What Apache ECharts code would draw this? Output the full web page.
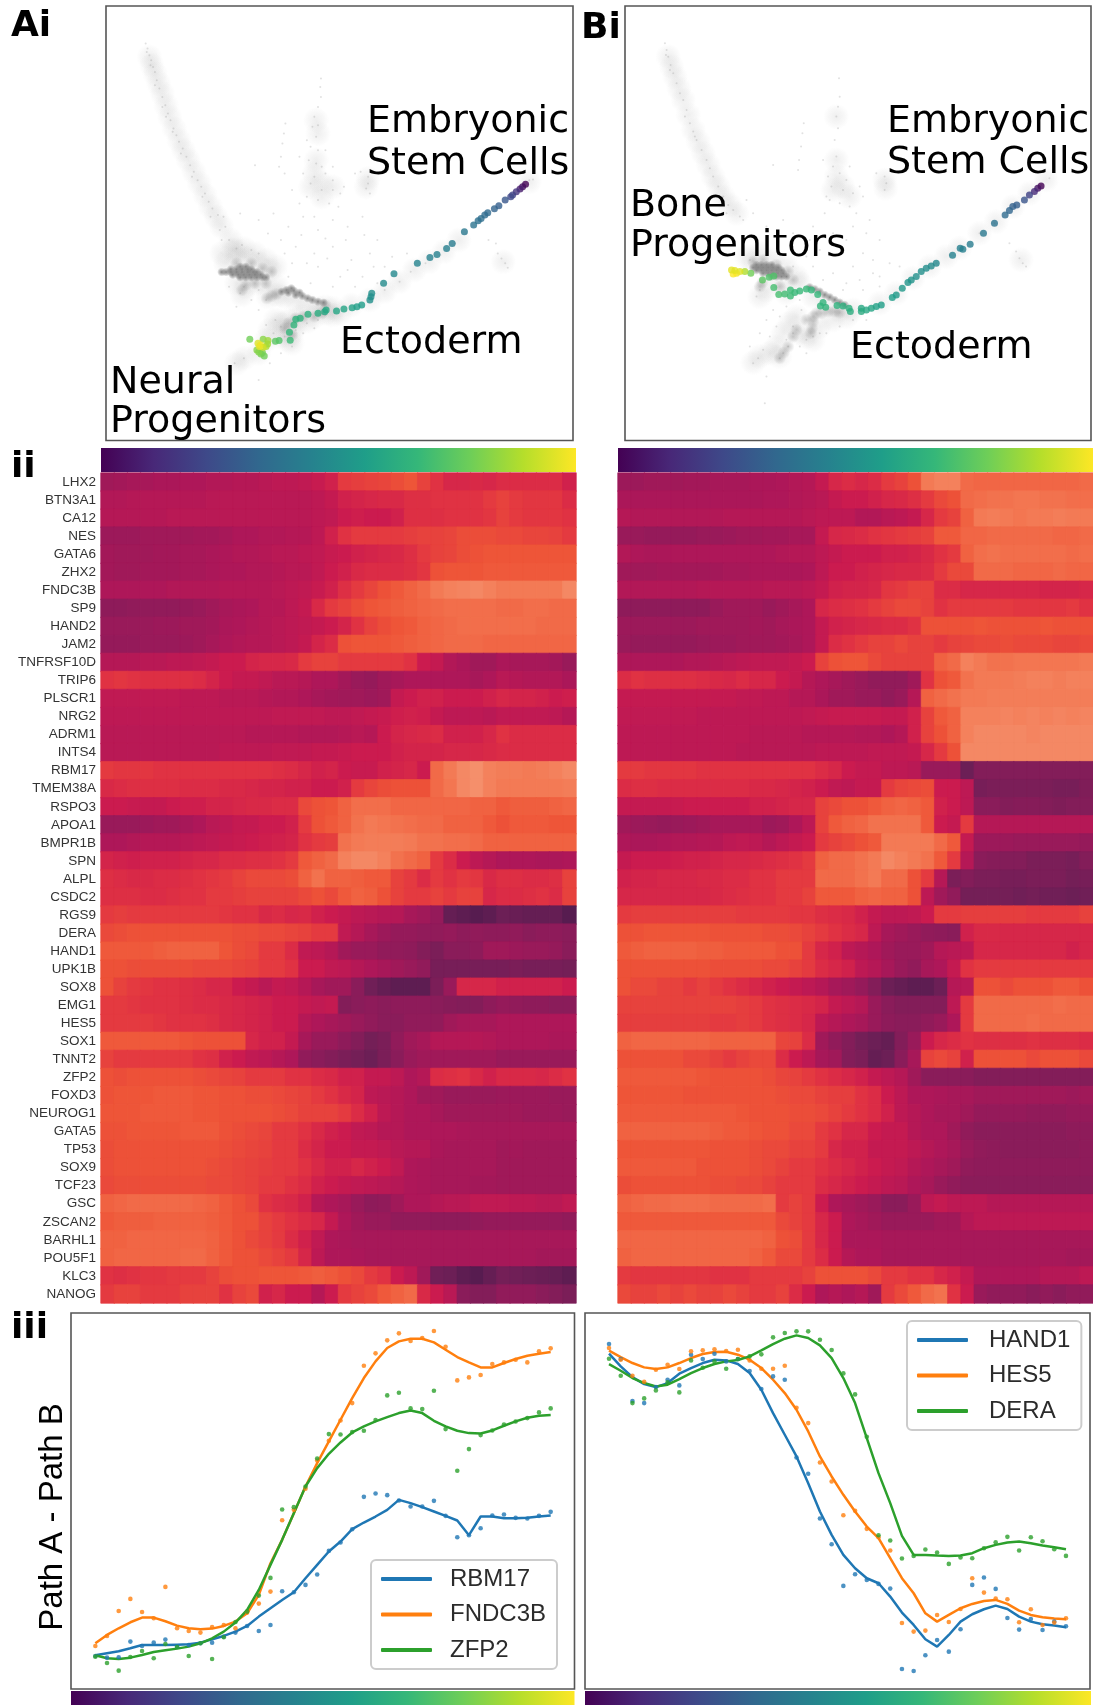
<!DOCTYPE html>
<html><head><meta charset="utf-8">
<style>html,body{margin:0;padding:0;background:#fff}#c{width:1093px;height:1705px}</style>
<script src="https://cdn.jsdelivr.net/npm/echarts@6/dist/echarts.min.js"></script>
</head><body><div id="c"></div>
<script>
const geneNames=["LHX2","BTN3A1","CA12","NES","GATA6","ZHX2","FNDC3B","SP9","HAND2","JAM2","TNFRSF10D","TRIP6","PLSCR1","NRG2","ADRM1","INTS4","RBM17","TMEM38A","RSPO3","APOA1","BMPR1B","SPN","ALPL","CSDC2","RGS9","DERA","HAND1","UPK1B","SOX8","EMG1","HES5","SOX1","TNNT2","ZFP2","FOXD3","NEUROG1","GATA5","TP53","SOX9","TCF23","GSC","ZSCAN2","BARHL1","POU5F1","KLC3","NANOG"];
const heatPathA=[
[38,39,40,40,41,41,42,42,43,43,44,44,45,46,46,47,49,52,60,61,62,63,65,67,62,58,54,54,55,54,56,56,56,56,56,52],
[43,43,44,44,44,44,44,44,45,45,45,45,45,45,45,45,46,48,52,53,54,55,55,57,57,58,58,58,58,60,62,60,59,59,59,56],
[44,44,44,44,44,45,45,45,45,45,45,45,45,45,45,45,46,47,50,51,50,50,52,57,57,57,58,58,58,59,62,60,59,59,59,58],
[37,37,37,38,38,38,38,39,39,40,42,42,43,43,44,44,46,52,58,60,60,60,60,61,62,62,63,65,65,65,64,64,63,63,62,60],
[39,38,38,38,39,39,40,40,41,42,43,43,44,45,45,46,47,49,50,52,53,54,55,57,60,62,63,65,66,67,67,67,67,67,67,67],
[39,38,38,39,39,39,40,40,41,42,42,43,43,44,45,45,47,50,52,55,56,56,56,57,59,66,67,67,67,68,68,68,68,68,68,68],
[42,42,42,42,42,43,43,43,43,44,44,44,44,45,46,47,49,52,57,60,63,66,68,70,72,76,78,79,80,78,76,76,76,76,76,80],
[33,33,34,34,34,34,35,36,38,40,41,42,44,44,46,48,55,60,62,65,67,68,69,70,71,72,73,73,73,73,72,72,73,73,72,72],
[36,36,36,36,37,37,38,38,39,41,42,43,44,45,46,47,48,50,53,58,62,65,67,68,70,71,72,73,73,73,73,73,73,72,72,72],
[35,35,35,36,36,36,37,38,40,42,43,44,44,45,46,48,53,56,66,67,67,67,68,69,70,71,72,72,72,71,71,71,71,71,71,71],
[44,44,44,45,45,46,46,47,48,50,50,53,54,54,55,60,62,62,60,60,60,60,60,58,50,48,43,41,38,38,41,40,40,40,39,36],
[58,59,58,57,57,57,57,56,53,50,48,48,47,45,45,44,42,42,39,36,35,38,40,42,42,42,42,42,40,42,45,44,43,43,43,41],
[47,47,47,47,47,47,46,46,46,45,45,45,44,43,43,42,40,39,38,38,37,38,48,50,52,52,50,50,50,52,54,53,53,52,50,51],
[46,46,46,46,46,46,46,46,46,46,46,46,46,47,47,47,47,46,46,47,48,49,51,52,51,48,46,46,46,45,47,47,47,47,46,44],
[45,45,45,45,45,45,45,45,45,45,45,44,44,44,44,43,43,43,44,45,44,50,53,54,55,56,52,52,52,54,58,56,56,56,56,56],
[45,45,45,45,45,45,45,45,45,46,46,46,46,47,47,47,48,48,49,50,50,50,52,53,53,53,54,54,54,55,56,56,56,56,56,56],
[60,59,59,59,58,58,58,58,58,58,58,58,58,57,56,54,52,53,50,49,49,52,53,54,50,72,76,80,82,78,77,77,76,77,78,80],
[55,56,57,57,57,57,56,56,56,55,55,54,53,53,52,52,50,50,52,60,63,65,66,66,66,72,75,80,82,78,76,76,76,76,76,77],
[50,50,49,48,48,50,51,51,53,53,54,55,55,56,56,64,66,67,70,73,73,73,71,71,71,71,71,71,70,70,68,69,69,69,70,71],
[36,36,36,37,38,38,40,42,45,46,48,48,50,50,52,60,66,68,70,74,76,75,74,73,72,72,70,70,70,68,66,68,68,68,67,67],
[42,42,43,44,44,44,45,46,47,48,49,50,51,52,53,58,60,61,74,76,77,77,77,76,74,74,73,73,72,70,70,70,70,70,70,70],
[53,52,51,52,52,52,53,54,54,56,56,57,57,58,60,68,70,72,78,80,80,78,74,72,70,60,56,50,46,44,42,42,42,41,41,42],
[57,56,55,55,56,56,57,58,59,60,62,64,64,64,65,70,74,70,70,69,68,68,62,60,56,60,58,60,59,55,57,57,56,56,57,62],
[57,57,57,56,56,57,58,58,60,60,61,62,62,62,62,64,66,64,68,70,69,66,62,60,60,62,60,62,62,54,56,56,57,58,56,62],
[60,61,60,60,60,60,60,60,60,59,58,58,55,56,54,55,52,50,48,46,45,44,44,40,38,35,22,20,18,20,24,23,22,22,22,18],
[64,65,66,66,66,66,66,66,66,66,65,65,64,64,63,62,60,60,47,44,40,37,35,35,34,34,35,33,34,33,33,34,32,33,33,32],
[68,68,68,68,69,70,70,70,70,67,65,64,60,60,56,47,46,44,38,36,36,34,34,33,30,28,32,32,33,38,38,37,36,36,35,32],
[66,66,65,65,65,65,65,64,64,64,63,62,60,60,58,50,50,47,46,44,42,40,38,36,34,27,27,27,27,27,27,28,27,27,27,26],
[66,62,60,59,58,58,57,56,54,54,50,48,45,48,47,44,40,38,38,32,25,22,20,20,20,28,36,54,54,54,52,52,52,52,52,50],
[60,60,59,58,58,58,57,56,56,55,54,53,52,50,50,48,47,48,30,32,33,32,33,33,33,32,31,30,30,33,35,34,33,33,32,32],
[60,60,60,60,59,58,58,58,57,55,54,53,52,50,50,44,42,40,38,36,34,32,32,34,34,34,38,40,40,40,42,42,42,42,42,42],
[68,68,68,68,68,68,67,66,66,66,66,54,52,52,48,40,36,36,33,30,26,28,34,38,40,44,44,44,44,43,42,42,42,42,41,41],
[62,60,60,60,60,60,60,58,57,52,50,47,46,44,42,34,32,30,28,26,24,28,32,36,38,38,38,38,38,38,36,36,36,36,36,36],
[66,65,66,66,66,66,66,65,64,63,62,60,60,60,58,58,56,55,52,52,48,48,46,42,44,56,57,58,55,52,55,55,55,54,56,58],
[66,67,67,67,68,68,68,67,67,66,66,65,65,64,63,62,60,58,55,53,46,45,44,42,38,38,36,36,36,36,37,37,37,37,36,36],
[67,67,67,68,68,68,68,67,67,66,66,66,66,65,64,62,62,62,60,56,52,46,44,42,42,40,38,38,38,38,38,38,37,37,37,36],
[66,66,67,67,67,67,68,68,68,66,65,64,63,60,60,58,55,52,50,47,46,44,44,42,42,42,42,41,40,40,40,40,40,40,40,40],
[65,66,66,66,66,66,66,66,66,65,64,63,62,60,60,56,53,50,50,48,48,47,45,44,44,41,40,40,40,40,38,39,38,38,38,38],
[65,66,66,66,66,66,66,66,65,64,63,62,61,60,60,58,55,52,52,54,52,50,47,42,41,40,40,40,40,40,38,38,38,38,38,38],
[64,65,65,65,65,65,65,65,64,64,63,62,60,60,58,56,52,50,48,47,46,45,44,42,41,40,40,40,39,39,38,38,38,38,38,38],
[70,71,72,72,72,72,72,71,70,68,66,64,58,56,55,52,44,42,40,36,33,34,38,42,42,44,45,45,47,47,47,46,46,45,45,47],
[68,69,69,69,70,70,70,70,69,68,66,66,62,60,58,56,54,48,42,38,36,36,34,34,34,33,33,33,34,35,35,35,35,35,35,34],
[70,70,71,71,71,71,71,71,70,68,66,64,62,60,56,52,47,42,41,40,40,40,40,40,40,40,40,40,40,40,40,40,40,40,40,40],
[70,71,71,71,71,71,72,72,70,68,66,66,64,62,60,54,46,42,42,41,40,40,40,40,40,40,40,40,40,40,40,40,40,39,39,39],
[58,57,58,59,59,60,60,60,62,65,66,66,67,67,67,68,69,68,66,64,60,58,50,46,38,25,24,20,18,22,26,25,24,23,22,20],
[60,62,62,60,60,60,62,62,62,58,62,64,52,54,50,50,44,50,60,62,64,68,70,72,55,50,45,32,30,30,34,34,34,32,30,28]];
const heatPathB=[
[37,37,38,38,38,39,39,40,40,40,41,41,42,43,44,48,54,56,54,56,60,62,66,76,78,78,72,71,71,71,71,71,71,71,71,72],
[41,41,41,41,41,41,41,41,41,41,41,42,42,43,44,45,48,50,50,52,54,55,57,60,64,66,72,73,74,74,75,75,74,74,73,73],
[44,43,43,43,43,43,43,43,44,44,44,44,44,44,45,46,46,46,43,43,45,46,48,54,60,62,70,76,77,76,75,76,76,77,76,76],
[36,36,35,35,35,35,36,36,37,38,38,39,39,40,40,48,54,55,56,58,59,60,61,62,68,68,71,71,72,72,72,72,72,71,71,72],
[43,42,41,41,42,42,42,42,42,42,42,42,43,44,44,46,48,50,50,50,52,52,53,55,58,60,70,73,74,73,73,73,73,73,72,73],
[38,38,38,39,39,39,39,39,40,40,41,41,41,41,42,46,50,50,52,53,54,55,55,56,60,64,64,72,72,72,71,71,71,72,71,71],
[43,43,43,43,43,43,44,44,44,44,44,45,45,45,46,48,52,53,53,54,59,60,62,62,56,56,54,54,54,54,54,54,53,53,53,54],
[33,33,33,33,33,33,33,36,38,38,38,36,38,40,42,54,56,57,58,60,62,64,64,62,58,60,60,60,60,60,59,59,59,59,60,58],
[37,37,37,37,37,37,38,38,38,38,39,38,40,41,42,48,52,53,54,55,56,56,58,66,66,66,66,67,66,66,66,66,67,66,66,66],
[36,35,35,35,35,35,36,37,37,38,38,38,39,40,42,48,56,58,60,62,62,64,62,62,60,62,63,64,64,65,64,64,64,63,63,64],
[42,42,42,42,42,43,43,44,45,46,47,47,47,48,50,62,66,67,67,64,62,62,62,62,70,72,78,76,74,74,75,75,75,75,75,76],
[56,58,57,57,57,57,56,55,54,56,54,54,50,48,44,42,40,38,36,34,34,34,38,58,66,68,74,76,76,76,77,78,78,77,78,78],
[48,48,48,48,48,48,48,48,48,47,47,46,46,44,44,41,38,38,36,36,34,36,44,70,72,74,76,76,77,77,77,77,77,77,77,77],
[47,47,47,47,47,47,46,46,46,46,46,46,46,46,47,48,49,49,49,49,48,48,52,62,68,70,78,78,78,79,78,79,78,79,78,79],
[46,46,46,46,46,46,46,46,46,46,45,45,45,45,44,44,44,44,43,43,42,44,52,62,66,70,78,80,80,80,80,79,80,80,80,80],
[46,46,46,46,46,46,46,46,46,45,45,45,45,45,45,46,46,46,46,47,47,47,48,54,60,66,80,80,80,80,80,80,80,80,80,80],
[60,60,59,59,59,59,58,58,58,58,58,58,58,58,58,56,54,50,48,48,46,46,45,36,36,36,24,30,30,30,30,30,30,30,30,30],
[56,57,57,56,56,56,56,56,56,56,55,55,54,53,52,50,47,46,48,48,60,63,64,65,50,50,46,27,28,28,28,28,28,27,27,29],
[48,48,48,48,49,50,50,50,50,50,52,52,53,54,54,62,64,66,66,68,70,71,70,68,52,50,46,32,32,30,31,31,30,29,30,30],
[38,37,36,35,36,37,38,40,40,40,40,37,38,42,46,62,68,70,71,74,74,74,74,68,50,48,60,44,44,44,44,44,44,44,44,44],
[42,41,41,42,43,43,44,44,46,47,46,44,46,48,50,60,62,64,66,68,76,76,76,76,72,68,48,37,37,37,36,36,36,36,36,35],
[48,50,50,50,51,52,52,53,54,54,55,56,57,58,60,70,72,72,74,76,80,78,76,74,68,60,44,32,31,30,30,28,28,28,27,30],
[52,53,53,54,54,54,55,55,56,56,58,58,60,60,60,72,72,72,74,76,72,72,66,60,44,28,30,28,28,27,27,28,28,28,26,27],
[54,54,54,54,54,54,54,55,56,57,58,58,60,60,62,68,68,68,70,71,70,70,66,46,38,34,26,26,26,26,25,26,25,25,24,25],
[60,61,61,61,61,61,61,61,61,60,60,60,60,59,59,57,56,55,52,48,46,46,47,50,60,60,61,61,61,61,61,60,60,60,60,62],
[66,66,67,67,67,67,67,66,66,66,66,65,65,64,62,60,58,56,54,46,40,38,36,34,33,32,52,55,55,54,54,54,54,54,54,54],
[68,69,70,70,70,70,69,69,68,68,68,68,66,66,60,54,52,46,44,42,38,36,36,38,44,45,46,54,54,54,54,54,54,54,52,54],
[66,66,66,66,66,66,66,65,65,65,65,64,64,62,60,56,54,52,46,44,40,36,34,40,42,48,58,60,60,60,60,60,60,60,60,60],
[66,64,64,62,62,60,62,60,58,56,54,52,50,48,46,44,40,38,35,30,24,22,20,20,24,44,45,66,66,64,66,66,66,68,68,66],
[62,62,62,62,62,62,62,62,62,61,60,58,57,56,55,53,48,46,44,36,32,30,30,30,30,46,60,72,72,72,72,72,72,73,72,72],
[61,61,61,61,61,61,61,60,60,61,60,58,57,56,54,46,44,42,40,36,33,32,32,34,36,42,60,72,72,72,72,73,72,72,72,72],
[70,71,71,71,71,71,71,70,70,70,70,70,63,62,56,38,34,30,26,24,22,30,36,50,54,56,58,57,57,57,57,58,57,57,57,56],
[66,66,66,66,66,64,64,62,60,62,64,64,56,50,46,40,38,30,28,22,24,32,40,62,64,62,52,66,66,66,66,64,66,66,66,64],
[68,68,68,68,68,68,67,66,66,66,66,65,63,62,60,58,56,54,52,48,46,44,38,32,32,32,32,30,30,30,30,30,30,30,30,30],
[67,67,67,67,67,66,66,66,66,66,66,66,65,64,64,62,61,61,58,56,50,46,42,42,41,40,40,38,38,38,38,38,38,38,37,38],
[68,68,68,68,68,68,68,68,68,67,66,66,66,65,65,64,62,60,58,56,52,46,44,42,40,40,38,35,35,35,35,34,34,34,35,35],
[70,70,70,70,70,70,70,69,68,68,67,66,66,64,64,60,58,54,54,50,48,48,44,42,42,38,34,32,32,32,32,32,32,32,33,33],
[67,67,67,67,67,67,67,66,66,66,65,64,64,62,62,60,54,52,52,48,48,48,46,44,42,40,36,34,33,32,32,32,32,32,32,33],
[68,68,68,68,68,68,66,66,66,66,65,64,62,60,60,58,56,54,52,50,48,47,44,42,40,38,34,33,33,33,33,33,33,33,33,33],
[65,66,66,66,66,66,66,65,65,64,64,62,60,60,60,56,54,52,50,48,46,45,42,40,36,34,32,32,32,32,32,32,32,32,32,32],
[70,71,72,72,73,73,73,72,72,72,72,73,60,62,60,50,42,40,38,36,32,32,36,46,48,46,46,46,44,44,44,44,44,44,44,44],
[68,68,68,68,68,68,68,68,68,68,68,68,64,62,60,54,50,42,40,38,36,36,36,36,38,38,44,46,46,46,46,46,46,46,46,46],
[71,71,71,71,71,71,71,71,71,71,71,70,66,65,60,54,50,41,41,41,40,40,40,40,40,40,40,40,40,40,40,40,40,40,40,40],
[70,71,71,71,71,71,71,71,71,71,70,68,64,64,60,56,50,44,42,42,40,40,40,40,40,40,40,40,40,40,40,40,40,40,39,39],
[60,59,59,59,59,59,59,58,58,58,60,60,60,60,62,66,66,66,66,64,60,60,58,58,54,52,48,42,42,42,42,42,44,44,44,46],
[64,62,62,64,62,64,62,62,64,62,60,60,62,56,50,42,44,42,44,38,60,64,68,72,74,58,50,36,34,34,34,32,34,32,34,34]];

// embedding points: [x, y, pseudotime]
const pathA=[[1420,552,0],[1412,560,.03],[1405,567,.08],[1395,575,.15],[1385,585,.2],[1380,590,.22],[1365,600,.27],[1348,617,.3],[1336,626,.32],[1318,638,.34],[1310,645,.35],[1300,655,.36],[1292,662,.37],[1280,675,.38],[1255,695,.4],[1222,730,.42],[1207,745,.43],[1181,763,.44],[1162,772,.44],[1128,790,.45],[1065,821,.47],[1037,850,.48],[1005,880,.5],[1003,890,.5],[1000,900,.5],[978,915,.55],[965,920,.56],[952,923,.57],[930,927,.58],[910,933,.59],[882,930,.6],[878,935,.6],[860,940,.62],[833,943,.63],[812,955,.64],[800,958,.64],[795,975,.65],[783,997,.66],[785,1021,.68],[755,1022,.72],[745,1024,.74],[676,1018,.78],[712,1018,.82],[725,1022,.85],[720,1040,.88],[695,1050,.82],[710,1058,.8],[715,1068,.78],[706,1062,.79],[700,1056,.81],[724,1032,.86],[698,1030,.95],[705,1035,.98],[712,1042,.93],[702,1040,.97]];
const pathB=[[1385,558,0],[1375,565,.05],[1365,575,.12],[1350,585,.2],[1335,600,.26],[1312,615,.3],[1300,620,.31],[1290,632,.33],[1277,645,.35],[1245,670,.38],[1212,700,.4],[1172,733,.42],[1150,748,.43],[1142,745,.43],[1119,766,.44],[1070,790,.47],[1055,798,.48],[1040,805,.49],[1025,815,.5],[1010,830,.5],[995,840,.51],[985,848,.52],[968,865,.53],[950,885,.54],[938,893,.55],[905,915,.56],[890,920,.57],[875,925,.58],[860,930,.6],[845,925,.6],[845,935,.61],[812,935,.62],[808,925,.63],[790,918,.63],[772,917,.64],[738,922,.65],[730,908,.65],[722,918,.65],[714,884,.66],[695,870,.66],[680,867,.67],[660,873,.67],[645,878,.67],[632,870,.68],[632,888,.68],[615,882,.69],[597,884,.7],[582,863,.7],[582,828,.72],[568,832,.72],[548,840,.74],[513,820,.78],[495,815,.88],[480,815,.95],[470,820,.98],[460,822,1],[455,810,.96],[465,812,.96]];
const cloudFaintA=[[395,130],[400,145],[405,165],[398,155],[410,180],[415,200],[408,195],[420,215],[425,240],[432,265],[420,255],[440,290],[448,315],[440,320],[455,340],[462,360],[450,350],[470,385],[478,405],[468,395],[485,425],[495,445],[505,470],[490,460],[515,495],[525,515],[535,540],[520,530],[545,560],[555,580],[565,605],[548,590],[575,625],[590,645],[605,650],[570,650],[595,690],[610,680],[620,720],[640,745],[600,720],[655,735],[680,750],[700,760],[868,235],[866,260],[868,290],[860,320],[850,350],[845,380],[860,375],[855,410],[840,440],[860,450],[835,480],[855,490],[870,500],[820,520],[850,530],[880,520],[900,540],[840,550],[870,570],[900,570],[920,580],[830,590],[860,600],[890,610],[930,560],[960,520],[975,515],[995,530],[995,550],[990,565],[1000,580],[772,370],[768,400],[764,430],[760,470],[755,500],[770,520],[690,495],[650,640],[700,660],[740,640],[780,680],[820,650],[860,690],[900,660],[940,680],[980,650],[760,720],[800,740],[850,760],[900,740],[950,780],[1000,760],[860,800],[920,830],[980,830],[790,790],[1040,800],[1000,895],[1040,870],[1080,845],[1110,815],[1150,790],[1190,765],[1230,730],[1260,700],[1300,665],[1350,620],[1390,585],[1430,540],[1440,538],[1345,760],[1355,775],[1365,790],[1372,803],[880,945],[860,960],[830,970],[800,990],[770,1010],[790,1040],[740,1000],[760,980],[720,1040],[690,1055],[660,1075],[635,1090],[700,1140],[745,960],[720,975],[650,880],[660,860],[700,870],[720,900],[725,700],[770,760],[815,705],[880,715],[935,720],[985,705],[1020,720],[830,790],[885,775],[940,810],[1010,800],[1060,770],[1100,760],[780,830],[840,850],[900,860],[960,860],[1020,850],[620,860],[680,900],[640,920],[700,930],[820,1000],[850,985],[760,1060],[730,1090],[850,650],[915,620],[810,610],[790,570],[900,500],[830,420],[880,450],[810,470],[1320,720],[1340,730]];
const cloudMidA=[[722,895],[735,888],[748,882],[720,850],[690,850],[665,855],[655,870],[640,790],[680,790],[710,805],[735,815],[800,955],[820,950],[850,950],[870,940],[780,970],[770,985],[790,1005],[880,915]];
const cloudHazeA=[[600,760],[630,750],[660,745],[690,760],[720,780],[745,800],[610,790],[640,775],[670,775],[700,790],[730,810],[640,850],[665,860],[655,885],[690,850],[715,850],[750,860],[725,890],[750,885],[770,890],[800,900],[830,915],[860,925],[880,920],[900,925],[780,960],[810,950],[850,950],[880,940],[900,945],[920,940],[770,990],[790,1000],[780,1020],[760,970],[730,990],[745,960],[720,1020],[700,1060],[660,1075],[640,1090],[830,965],[800,975],[760,1010],[790,1030],[855,480],[850,520],[870,550],[840,560],[870,590],[900,560],[995,535],[990,560],[860,400],[855,360],[405,170],[412,195],[420,220],[430,250],[440,280],[450,315],[460,350],[472,385],[485,420],[497,450],[510,480],[525,515],[540,550],[555,585],[570,620],[585,650],[600,680],[625,720],[640,750],[950,915],[1000,900],[1040,875],[1080,845],[1120,810],[1160,785],[1200,755],[1240,720],[1360,785],[1430,545]];
const cloudDenseA=[[650,800],[665,800],[625,808],[640,808],[655,808],[670,808],[680,808],[600,816],[612,816],[625,816],[640,816],[655,816],[670,816],[685,816],[695,816],[630,824],[645,824],[660,824],[675,824],[690,824],[705,824],[650,832],[665,832],[680,832],[695,832],[710,832],[720,832],[762,875],[775,870],[788,865],[780,878],[795,872],[810,878],[800,885],[818,888],[832,895],[845,900],[860,905],[875,908]];
const cloudFaintB=[[255,130],[260,150],[265,170],[258,165],[272,195],[280,220],[270,210],[290,250],[300,280],[310,300],[320,330],[315,350],[330,370],[340,395],[350,420],[345,410],[365,450],[380,480],[390,505],[400,530],[415,560],[430,590],[445,615],[460,630],[480,650],[440,640],[490,660],[778,235],[780,290],[775,320],[770,350],[775,385],[765,420],[770,470],[760,500],[745,530],[780,520],[800,540],[755,560],[790,570],[820,580],[840,560],[750,600],[780,610],[810,620],[735,640],[850,590],[890,520],[915,530],[920,550],[915,570],[672,370],[668,400],[664,440],[658,480],[655,510],[580,495],[500,600],[520,640],[560,680],[610,660],[640,700],[700,680],[760,700],[820,680],[870,660],[900,720],[850,760],[780,760],[720,750],[680,770],[930,790],[880,820],[840,840],[800,850],[900,860],[960,800],[910,910],[950,880],[1000,835],[1070,790],[1110,765],[1150,740],[1200,700],[1245,670],[1300,620],[1350,580],[1410,535],[1385,555],[1310,755],[1320,775],[1330,790],[1340,800],[640,980],[620,1020],[600,1075],[610,1060],[625,1040],[640,1000],[520,1090],[535,1075],[550,1050],[570,1010],[600,950],[590,980],[560,1130],[555,1210],[665,930],[700,1010],[680,1020],[720,1000],[510,780],[540,870],[530,890],[640,740],[690,720],[750,730],[800,720],[860,700],[640,800],[700,800],[760,820],[820,800],[880,780],[660,900],[620,920],[580,930],[560,960],[540,1000],[510,1040],[660,1040],[680,1060],[740,1000],[780,980],[820,960],[860,960],[730,840],[790,870],[850,870],[900,830],[740,590],[810,500],[730,480],[830,640],[1290,730]];
const cloudMidB=[[700,950],[700,965],[697,985],[693,1000],[710,940],[725,940],[745,935],[765,935],[780,938],[680,960],[600,1075],[612,1058],[625,1040],[640,1010],[650,990],[540,860],[548,848],[520,785],[550,780],[590,795],[625,815],[640,840],[600,860]];
const cloudHazeB=[[500,770],[540,760],[580,780],[620,800],[650,830],[600,850],[560,870],[540,890],[520,790],[620,880],[660,850],[700,890],[740,910],[780,930],[820,930],[650,950],[630,970],[610,1000],[590,1040],[570,1060],[540,1070],[520,1088],[600,1070],[680,1010],[720,980],[760,960],[800,950],[660,1000],[700,1020],[770,350],[770,480],[770,530],[790,560],[760,570],[810,590],[915,540],[918,565],[265,170],[275,200],[285,230],[297,265],[310,300],[325,345],[340,390],[355,425],[370,460],[385,495],[400,530],[415,560],[430,590],[450,615],[470,640],[900,910],[950,880],[1000,835],[1050,800],[1100,770],[1140,745],[1200,700],[1250,665],[1300,620],[1350,580],[1400,540],[1325,780]];
const cloudDenseB=[[530,795],[545,795],[560,795],[575,795],[520,803],[535,803],[550,803],[565,803],[580,803],[595,803],[530,811],[545,811],[560,811],[575,811],[590,811],[605,811],[550,820],[565,820],[580,820],[595,820],[610,820],[575,830],[590,830],[605,830],[620,830],[690,862],[705,868],[720,875],[735,885],[750,892],[765,900],[780,908],[795,915]];

// path-difference curves, arbitrary vertical units
const rbm17Line=[101,107,113,122,132,132,132,133,134,139,149,159,172,189,217,242,267,290,332,372,412,442,479,499,517,537,567,557,545,532,519,505,461,517,517,512,512,513,517,520];
const rbm17Dots=[99,94,95,142,129,139,148,127,132,137,139,157,169,189,174,192,293,290,312,343,414,439,479,576,586,581,565,547,547,564,519,455,461,482,520,523,513,511,519,531];
const fndc3bLine=[137,162,182,200,214,214,203,190,182,179,181,189,202,227,282,377,447,527,607,677,742,807,872,932,982,1022,1042,1050,1050,1039,1017,995,979,964,964,977,989,999,1005,1010];
const fndc3bDots=[129,159,234,270,231,212,306,182,174,169,186,192,182,229,256,292,506,537,600,685,744,805,857,969,1006,1045,1066,1043,1052,1073,1026,925,934,941,974,979,987,979,1012,1021];
const zfp2Line=[101,92,90,94,102,111,116,121,127,137,152,172,199,237,297,372,447,527,607,662,705,739,769,787,802,815,827,835,827,804,787,774,767,766,775,789,802,813,819,821];
const zfp2Dots=[97,78,55,96,114,92,135,126,99,137,90,155,201,232,280,333,538,545,607,691,764,763,770,774,806,880,888,841,839,894,779,654,719,761,775,793,802,812,829,841];
const hand1Line=[1005,967,935,914,905,917,945,962,977,987,985,974,947,897,827,762,697,617,532,462,402,362,332,317,277,229,192,149,127,162,202,224,239,250,240,217,202,194,190,185];
const hand1Dots=[1034,989,863,857,905,927,910,1002,989,1005,982,989,953,899,937,927,694,645,511,434,309,344,327,315,301,60,54,101,147,112,179,312,334,300,213,178,210,177,202,188];
const hes5Line=[1014,995,977,964,959,964,977,992,1004,1010,1011,1002,987,962,927,887,837,772,697,637,582,532,487,452,392,332,287,227,202,222,242,255,264,267,255,235,222,215,211,209];
const hes5Dots=[1022,987,939,921,957,972,959,1012,1015,1018,1013,1017,985,960,960,969,843,797,679,622,521,534,480,455,415,198,172,175,222,201,240,332,289,271,269,200,239,192,199,212];
const deraLine=[974,954,932,917,907,912,929,947,962,974,982,986,997,1015,1034,1050,1060,1052,1030,992,932,857,752,647,557,459,402,402,400,399,400,407,422,432,439,442,437,430,425,419];
const deraDots=[990,939,857,871,895,919,889,985,963,982,960,989,997,1003,1054,1067,1072,1072,1047,1016,946,883,756,461,445,391,399,418,409,375,394,392,422,440,456,415,455,443,419,399];

const viridis=["#440154","#482878","#3e4989","#31688e","#26828e","#1f9e89","#35b779","#6ece58","#b5de2b","#fde725"];
const rocket=["#03051a","#35193e","#521c4f","#701f57","#8f1b5a","#ad1759","#cb1b4f","#e13342","#ee5437","#f37651","#f59470","#f6b48f","#faebdd"];
const tab=["#1f77b4","#ff7f0e","#2ca02c"];

const chart=echarts.init(document.getElementById('c'),null,{renderer:'canvas',width:1093,height:1705});
const grids=[
 {left:106,top:6,width:467,height:434.5},
 {left:625,top:6,width:466,height:434.5},
 {left:101,top:473,width:475,height:830},
 {left:618,top:473,width:475,height:830},
 {left:71,top:1313,width:503.5,height:376},
 {left:585,top:1313,width:505,height:376}
].map((g,i)=>Object.assign(g,(i<2||i>3)?{show:true,borderColor:'#555',borderWidth:1.6,backgroundColor:'transparent'}:{show:false}));
const hid={show:false};
const xAxis=[],yAxis=[];
[[288,1548,17,1322],[135,1535,18,1322]].forEach((r,i)=>{
 xAxis.push({type:'value',gridIndex:i,min:r[0],max:r[1],show:false});
 yAxis.push({type:'value',gridIndex:i,min:r[2],max:r[3],inverse:true,show:false});
});
const cols=heatPathA[0].map((_,i)=>String(i));
[2,3].forEach(i=>{
 xAxis.push({type:'category',gridIndex:i,data:cols,show:false});
 yAxis.push({type:'category',gridIndex:i,data:geneNames,inverse:true,show:i===2,
  axisLine:hid,axisTick:hid,splitLine:hid,
  axisLabel:{interval:0,fontSize:13.5,color:'#333',fontFamily:'Liberation Sans',margin:5}});
});
[[-2.085,41.04],[-2.05,41.05]].forEach((r,i)=>{
 xAxis.push({type:'value',gridIndex:4+i,min:r[0],max:r[1],show:false});
 yAxis.push({type:'value',gridIndex:4+i,min:0,max:1127,show:false});
});
const series=[];
const soft=a=>new echarts.graphic.RadialGradient(.5,.5,.5,[{offset:0,color:'rgba(128,128,128,'+a+')'},{offset:.6,color:'rgba(128,128,128,'+a*.45+')'},{offset:1,color:'rgba(128,128,128,0)'}]);
function cloud(i,f,m,d,h){
 const s=(data,size,color,op)=>series.push({type:'scatter',xAxisIndex:i,yAxisIndex:i,data,symbolSize:size,silent:true,itemStyle:{color,opacity:op}});
 s(h,26,soft(.13),1);
 s(f,2,'#888',.25);
 s(m,13,soft(.4),1);
 s(d,9,soft(.95),1);
}
cloud(0,cloudFaintA,cloudMidA,cloudDenseA,cloudHazeA);cloud(1,cloudFaintB,cloudMidB,cloudDenseB,cloudHazeB);
const pathIdx=[series.length,series.length+1];
series.push({type:'scatter',xAxisIndex:0,yAxisIndex:0,data:pathA,symbolSize:7,silent:true});
series.push({type:'scatter',xAxisIndex:1,yAxisIndex:1,data:pathB,symbolSize:7,silent:true});
const heatIdx=[series.length,series.length+1];
[heatPathA,heatPathB].forEach((m,k)=>{
 const d=[];m.forEach((row,r)=>row.forEach((v,c)=>d.push({value:[c,r,v],itemStyle:{borderWidth:.7,borderColor:echarts.color.lerp(v/100,rocket)}})));
 series.push({type:'heatmap',xAxisIndex:2+k,yAxisIndex:2+k,data:d,silent:true,progressive:0});
});
function curves(i,names,lines,dots){
 names.forEach((n,k)=>{
  series.push({type:'line',name:n,xAxisIndex:i,yAxisIndex:i,data:lines[k].map((v,x)=>[x,v]),symbol:'none',silent:true,lineStyle:{width:2.5,color:tab[k]},itemStyle:{color:tab[k]},z:3});
  series.push({type:'scatter',name:n+' cells',xAxisIndex:i,yAxisIndex:i,data:dots[k].map((v,x)=>[x,v]),symbolSize:4.6,silent:true,itemStyle:{color:tab[k]},z:3});
 });
}
curves(4,["RBM17","FNDC3B","ZFP2"],[rbm17Line,fndc3bLine,zfp2Line],[rbm17Dots,fndc3bDots,zfp2Dots]);
curves(5,["HAND1","HES5","DERA"],[hand1Line,hes5Line,deraLine],[hand1Dots,hes5Dots,deraDots]);

const stops=viridis.map((c,i)=>({offset:i/(viridis.length-1),color:c}));
const bar=(x,y,w,h)=>({type:'rect',shape:{x,y,width:w,height:h},silent:true,style:{fill:new echarts.graphic.LinearGradient(0,0,1,0,stops)}});
const txt=(s,x,y,font)=>({type:'text',x,y,silent:true,z:10,style:{text:s,font,fill:'#000',textVerticalAlign:'middle',verticalAlign:'middle'}});
const big="38px 'DejaVu Sans'",bold="bold 36px 'DejaVu Sans'";
const graphics=[
 bar(101,448,475,24),bar(618,448,475,24),bar(71,1691,503.5,14),bar(585,1691,506,14),
 txt('Ai',11,27,bold),txt('Bi',581,29,bold),txt('ii',11,468,bold),txt('iii',11,1329,bold),
 txt('Embryonic',367,122,big),txt('Stem Cells',367,164,big),txt('Ectoderm',340,343,big),txt('Neural',110,383,big),txt('Progenitors',110,422,big),
 txt('Embryonic',887,122,big),txt('Stem Cells',887,163,big),txt('Bone',630,206,big),txt('Progenitors',630,246,big),txt('Ectoderm',850,348,big),
 {type:'text',x:53,y:1517,rotation:Math.PI/2,silent:true,style:{text:'Path A - Path B',font:"33px 'Liberation Sans'",fill:'#000',align:'center',verticalAlign:'middle'}}
];
const legendBase={orient:'vertical',icon:'roundRect',itemWidth:51,itemHeight:4,itemGap:11.5,padding:[7,11,7,10],borderColor:'#ccc',borderWidth:2,borderRadius:5,backgroundColor:'rgba(255,255,255,.85)',selectedMode:false};
const legendText=p=>({fontFamily:'Liberation Sans',fontSize:24,color:'#2b2b2b',padding:[0,0,0,p]});
chart.setOption({
 animation:false,
 grid:grids,xAxis,yAxis,series,
 legend:[Object.assign({},legendBase,{left:371,top:1560,textStyle:legendText(13),data:["RBM17","FNDC3B","ZFP2"]}),Object.assign({},legendBase,{left:907,top:1321,textStyle:legendText(16),data:["HAND1","HES5","DERA"]})],
 visualMap:[
  {type:'continuous',show:false,min:0,max:1,dimension:2,seriesIndex:pathIdx,inRange:{color:viridis}},
  {type:'continuous',show:false,min:0,max:100,dimension:2,seriesIndex:heatIdx,inRange:{color:rocket}}
 ],
 graphic:graphics
});
</script></body></html>
